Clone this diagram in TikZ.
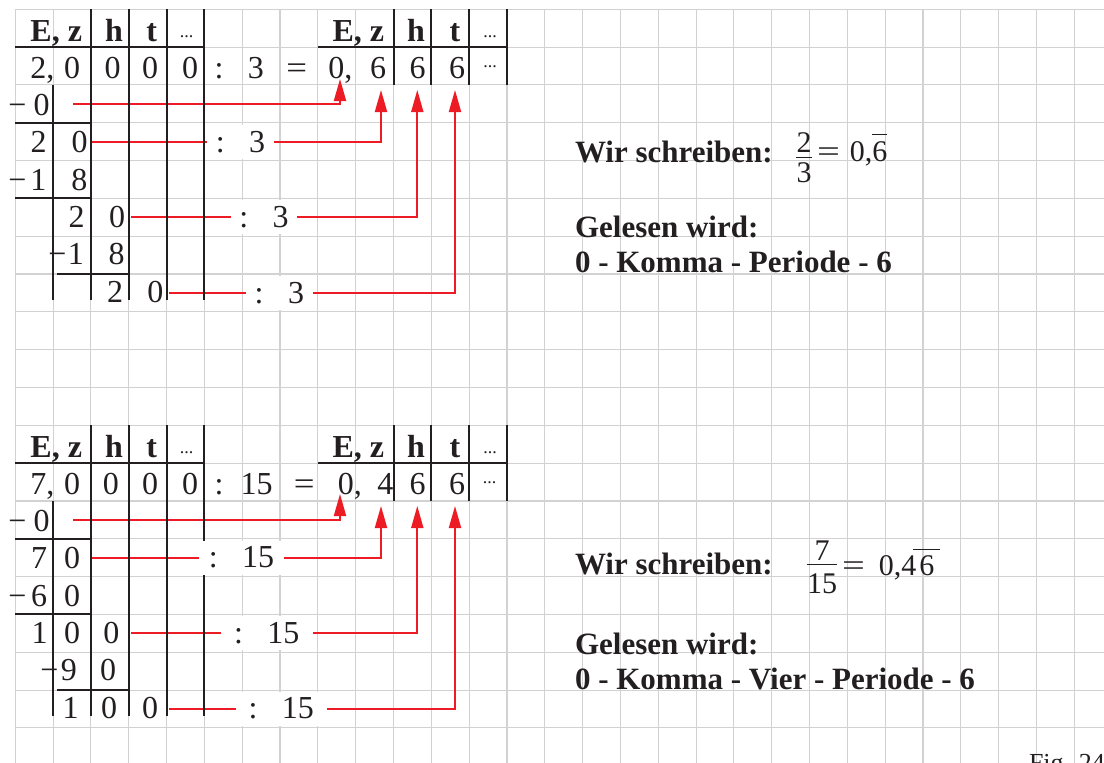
\documentclass[tikz,border=0pt]{standalone}
\usepackage{amsmath}
\usepackage{fontspec}
\setmainfont{Liberation Serif}
\usetikzlibrary{arrows.meta}
\definecolor{gridc}{RGB}{210,210,210}
\definecolor{redc}{RGB}{237,28,36}
\definecolor{ink}{RGB}{35,31,32}
\begin{document}
\begin{tikzpicture}[x=1pt,y=-1pt,
 every node/.style={inner sep=0pt, outer sep=0pt, text=ink},
 gridline/.style={draw=gridc, line width=1.1pt},
 rul/.style={draw=ink, line width=2pt},
 redarr/.style={draw=redc, line width=1.9pt, -{Triangle[length=22pt,width=12pt]}},
 dg/.style={anchor=base, font=\fontsize{32}{38}\selectfont},
 hd/.style={anchor=base, font=\fontsize{32}{38}\selectfont\bfseries},
 dts/.style={anchor=center, font=\fontsize{18}{22}\selectfont},
 lbl/.style={fill=white, minimum height=34pt, font=\fontsize{32}{38}\selectfont},
 txt/.style={anchor=base west, font=\fontsize{31}{37}\selectfont\bfseries},
 mth/.style={font=\fontsize{30}{36}\selectfont},
]
\useasboundingbox (0,0) rectangle (1104,763);
\clip (0,0) rectangle (1104,763);
\fill[white] (0,0) rectangle (1104,763);
% grid
\foreach \k in {0,...,28} \draw[gridline] ({15.3+37.82*\k},9.3) -- ({15.3+37.82*\k},763);
\foreach \j in {0,...,19} \draw[gridline] (15.3,{9.3+37.82*\j}) -- (1104,{9.3+37.82*\j});

% red arrows (upper)
\coordinate (a1s) at (73.3,104.2);  \coordinate (a1t) at (340,79);
\coordinate (a2s) at (91.7,141.7);  \coordinate (a2t) at (381,90);
\coordinate (a3s) at (131,217.3);   \coordinate (a3t) at (417.3,90);
\coordinate (a4s) at (169,292.7);   \coordinate (a4t) at (455,90);
% red arrows (lower)
\coordinate (b1s) at (73.3,520.2);  \coordinate (b1t) at (340,494);
\coordinate (b2s) at (91.7,557.6);  \coordinate (b2t) at (381,506);
\coordinate (b3s) at (131,633.2);   \coordinate (b3t) at (417.3,506);
\coordinate (b4s) at (169,708.6);   \coordinate (b4t) at (455,506);
\foreach \p in {a1,a2,a3,a4,b1,b2,b3,b4} \draw[redarr] (\p s) -| (\p t);

% table rules
\foreach \o in {0,416.02}{
  \foreach \x in {90.94,128.76,166.58,204.4} \draw[rul] (\x,9.3+\o) -- (\x,300+\o);
  \draw[rul] (53.12,84.94+\o) -- (53.12,300+\o);
  \draw[rul] (15.3,47.12+\o) -- (204.4,47.12+\o);
  \draw[rul] (15.3,122.76+\o) -- (90.94,122.76+\o);
  \draw[rul] (15.3,198.4+\o) -- (90.94,198.4+\o);
  \draw[rul] (57.3,274.04+\o) -- (128.76,274.04+\o);
  \foreach \x in {393.5,431.32,469.14,506.96} \draw[rul] (\x,9.3+\o) -- (\x,84.94+\o);
  \draw[rul] (317.86,47.12+\o) -- (506.96,47.12+\o);
}

% white division labels
\node[lbl, minimum width=67pt]   (ul3) at (240.5,141.7) {:\hspace{24.5pt}3};
\node[lbl, minimum width=66.6pt] (ul4) at (264,217.3)   {:\hspace{24.5pt}3};
\node[lbl, minimum width=66.7pt] (ul6) at (279.4,292.7) {:\hspace{24.5pt}3};
\node[lbl, minimum width=85pt]   (ll3) at (241.5,557.6) {:\hspace{24.5pt}15};
\node[lbl, minimum width=92pt]   (ll5) at (266.7,633.2) {:\hspace{24.5pt}15};
\node[lbl, minimum width=91pt]   (ll7) at (281.2,708.6) {:\hspace{24.5pt}15};

% ---------- upper table ----------
\node[hd] (uE) at (56.2,41.5) {E, z};
\node[hd] (uh) at (114,41.5) {h};
\node[hd] (ut) at (151.7,41.5) {t};
\node[dts] (ud) at (186.7,36.5) {...};
\node[hd] (vE) at (358.3,41.5) {E, z};
\node[hd] (vh) at (416,41.5) {h};
\node[hd] (vt) at (455,41.5) {t};
\node[dts] (vd) at (490,36.5) {...};

\node[dg,anchor=base west] (u1a) at (30.3,78.5) {2,};
\node[dg] (u1b) at (72.2,78.5) {0};
\node[dg] (u1c) at (112.5,78.5) {0};
\node[dg] (u1d) at (150,78.5) {0};
\node[dg] (u1e) at (190,78.5) {0};
\node[dg] (u1f) at (219,78.5) {:};
\node[dg] (u1g) at (255.8,78.5) {3};
\node[dg] (u1h) at (296.7,78.5) {\scalebox{1.15}[1]{=}};
\node[dg,anchor=base west] (u1i) at (328.3,78.5) {0,};
\node[dg] (u1j) at (378,78.5) {6};
\node[dg] (u1k) at (417.5,78.5) {6};
\node[dg] (u1l) at (457,78.5) {6};
\node[dts] (u1m) at (490,66.7) {...};

\node[dg] (u2a) at (17.3,115) {−};
\node[dg] (u2b) at (41.7,115) {0};
\node[dg] (u3a) at (38.7,152.5) {2};
\node[dg] (u3b) at (79.7,152.5) {0};
\node[dg] (u4a) at (17.3,190.5) {−};
\node[dg] (u4b) at (38.3,190.5) {1};
\node[dg] (u4c) at (79.3,190.5) {8};
\node[dg] (u5a) at (76.7,227) {2};
\node[dg] (u5b) at (117,227) {0};
\node[dg] (u6a) at (57.3,264.5) {−};
\node[dg] (u6b) at (75.8,264.5) {1};
\node[dg] (u6c) at (116.7,264.5) {8};
\node[dg] (u7a) at (115,302) {2};
\node[dg] (u7b) at (155.3,302) {0};

% ---------- lower table ----------
\node[hd] (lE) at (56.2,457.5) {E, z};
\node[hd] (lh) at (114,457.5) {h};
\node[hd] (lt) at (151.7,457.5) {t};
\node[dts] (ld) at (186.7,452.5) {...};
\node[hd] (mE) at (358.3,457.5) {E, z};
\node[hd] (mh) at (416,457.5) {h};
\node[hd] (mt) at (455,457.5) {t};
\node[dts] (md) at (490,452.5) {...};

\node[dg,anchor=base west] (l1a) at (30.3,494.5) {7,};
\node[dg] (l1b) at (72.2,494.5) {0};
\node[dg] (l1c) at (110.8,494.5) {0};
\node[dg] (l1d) at (150,494.5) {0};
\node[dg] (l1e) at (190,494.5) {0};
\node[dg] (l1f) at (219,494.5) {:};
\node[dg] (l1g) at (256.7,494.5) {15};
\node[dg] (l1h) at (304.2,494.5) {\scalebox{1.15}[1]{=}};
\node[dg,anchor=base west] (l1i) at (337.8,494.5) {0,};
\node[dg] (l1j) at (385.3,494.5) {4};
\node[dg] (l1k) at (417.5,494.5) {6};
\node[dg] (l1l) at (457,494.5) {6};
\node[dts] (l1m) at (489.5,482.7) {...};

\node[dg] (l2a) at (17.3,531) {−};
\node[dg] (l2b) at (41.7,531) {0};
\node[dg] (l3a) at (39.2,568.5) {7};
\node[dg] (l3b) at (72.2,568.5) {0};
\node[dg] (l4a) at (17.3,606.5) {−};
\node[dg] (l4b) at (39,606.5) {6};
\node[dg] (l4c) at (72.2,606.5) {0};
\node[dg] (l5a) at (39.5,643) {1};
\node[dg] (l5b) at (72.2,643) {0};
\node[dg] (l5c) at (111.3,643) {0};
\node[dg] (l6a) at (49.3,680.5) {−};
\node[dg] (l6b) at (68.8,680.5) {9};
\node[dg] (l6c) at (108,680.5) {0};
\node[dg] (l7a) at (70.5,718) {1};
\node[dg] (l7b) at (109.2,718) {0};
\node[dg] (l7c) at (150,718) {0};

% ---------- right texts ----------
\node[txt] (w1) at (575,162) {Wir schreiben:};
\node[mth, anchor=base] (f1n) at (804,152) {2};
\node[mth, anchor=base] (f1d) at (804,182) {3};
\coordinate (f1l) at (796,157.5); \coordinate (f1r) at (812,157.5);
\draw[ink, line width=1.2pt] (f1l) -- (f1r);
\node[mth, anchor=base west] (r1) at (817,161) {\scalebox{1.35}[1]{=}\hspace{10pt}0,$\overline{\raisebox{0pt}[23pt]{6}}$};
\node[txt] (g1) at (575,237) {Gelesen wird:};
\node[txt] (k1) at (575,272) {0 - Komma - Periode - 6};

\node[txt] (w2) at (575,574) {Wir schreiben:};
\node[mth, anchor=base] (f2n) at (822,560) {7};
\node[mth, anchor=base] (f2d) at (822,593) {15};
\coordinate (f2l) at (806.7,564.2); \coordinate (f2r) at (836.7,564.2);
\draw[ink, line width=1.2pt] (f2l) -- (f2r);
\node[mth, anchor=base west] (r2) at (842,575) {\scalebox{1.35}[1]{=}\hspace{14pt}0,4\kern-3pt$\overline{\raisebox{0pt}[22.5pt]{\hbox to 27pt{\hss 6\hss}}}$};
\node[txt] (g2) at (575,654) {Gelesen wird:};
\node[txt] (k2) at (575,689) {0 - Komma - Vier - Periode - 6};

\node[anchor=base west, font=\fontsize{26}{30}\selectfont] (fig) at (1029,771) {Fig. 24};
\end{tikzpicture}
\end{document}
